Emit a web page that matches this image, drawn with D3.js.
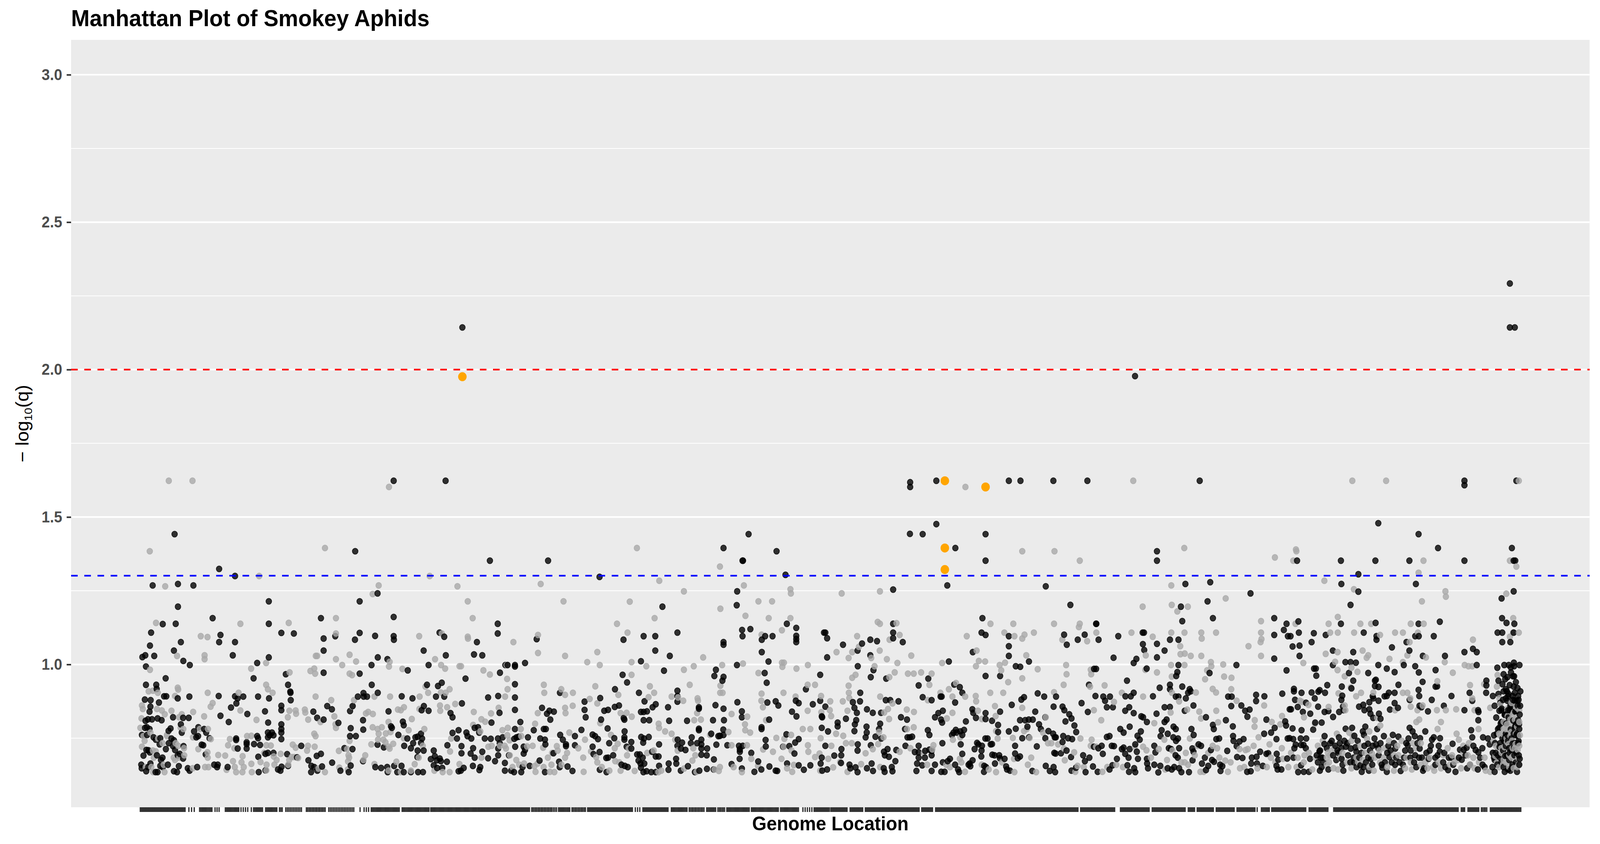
<!DOCTYPE html>
<html><head><meta charset="utf-8">
<script src="https://cdn.jsdelivr.net/npm/d3@7"></script>
<style>html,body{margin:0;padding:0;background:#fff;width:100%;height:100%;overflow:hidden;}svg{display:block;width:100vw;height:100vh;}</style>
</head><body>
<svg id="chart" viewBox="0 0 4320 2160" preserveAspectRatio="none"></svg>
<script>
// ---------------- DATA ----------------
const chartTitle = "Manhattan Plot of Smokey Aphids";
const xAxisTitle = "Genome Location";
const yTickValues = [1.0, 1.5, 2.0, 2.5, 3.0];
const yTickLabels = ["1.0", "1.5", "2.0", "2.5", "3.0"];
const yUpperLimit = 3.0;
const qThresholds = [0.01, 0.05];

// SNPs on odd-numbered contigs: [genome position, -log10(q)]
const oddContigSnps = [
[1480,2.143],[1173,1.623],[1405,1.623],[194,1.442],[1001,1.384],[393,1.324],[464,1.300],[96,1.268],[209,1.273],[278,1.268],[1101,1.241],[615,1.214],[1021,1.214],[209,1.196],[364,1.157],[848,1.157],[1173,1.161],[141,1.137],[199,1.138],[615,1.138],[89,1.108],[399,1.100],[671,1.107],[727,1.105],[1021,1.107],[912,1.096],[1000,1.084],[1090,1.097],[1173,1.096],[1174,1.084],[1378,1.108],[1399,1.094],[1545,1.076],[860,1.088],[84,1.064],[222,1.076],[393,1.076],[464,1.076],[191,1.047],[860,1.047],[1307,1.047],[50,1.025],[63,1.031],[103,1.029],[454,1.031],[615,1.024],[1102,1.024],[1145,1.018],[1406,1.031],[1532,1.034],[233,1.012],[262,0.998],[66,0.993],[563,1.005],[691,0.967],[860,0.972],[1021,0.969],[1074,0.998],[1236,0.980],[1329,0.998],[1494,0.952],
[154,0.953],[66,0.931],[112,0.931],[114,0.917],[547,0.953],[701,0.931],[711,0.908],[712,0.904],[713,0.879],[1075,0.931],[1102,0.904],[1038,0.903],[1013,0.891],[1054,0.891],[1039,0.891],[1322,0.931],[1362,0.891],[1371,0.927],[1388,0.938],[1399,0.891],[876,0.859],[897,0.848],[1478,0.868],[1209,0.892],[1257,0.885],[61,0.881],[87,0.879],[124,0.871],[147,0.892],[157,0.892],[208,0.885],[260,0.891],[391,0.893],[464,0.892],[476,0.885],[501,0.891],[567,0.891],[616,0.885],[446,0.854],[470,0.868],[86,0.857],[82,0.840],[75,0.814],[93,0.814],[64,0.809],[62,0.785],[118,0.817],[136,0.811],[187,0.821],[232,0.819],[257,0.819],[399,0.826],[436,0.805],[519,0.832],[598,0.841],[612,0.803],[671,0.860],[671,0.845],[671,0.797],[671,0.781],[671,0.769],[671,0.747],[814,0.840],[831,0.819],[860,0.813],[926,0.802],[978,0.842],[990,0.859],[1036,0.811],[1037,0.779],[1150,0.841],[1161,0.790],[1165,0.785],[1214,0.806],[1218,0.794],[1298,0.845],[1308,0.859],[1329,0.843],[1427,0.835],[1436,0.821],[1535,0.785],[1550,0.787],
[48,0.761],[71,0.761],[100,0.753],[130,0.750],[167,0.775],[176,0.783],[226,0.769],[191,0.743],[187,0.723],[234,0.723],[281,0.773],[300,0.787],[291,0.753],[299,0.757],[326,0.781],[335,0.769],[350,0.750],[315,0.728],[322,0.726],[333,0.695],[371,0.660],[387,0.660],[384,0.652],[431,0.652],[469,0.749],[469,0.744],[476,0.715],[516,0.736],[516,0.730],[516,0.715],[549,0.730],[563,0.757],[567,0.750],[576,0.727],[568,0.687],[570,0.635],[600,0.697],[611,0.769],[611,0.753],[619,0.760],[629,0.769],[636,0.760],[611,0.700],[636,0.700],[600,0.641],[656,0.644],[672,0.653],[667,0.640],[697,0.696],[701,0.656],[760,0.724],[741,0.685],[792,0.675],[805,0.656],[804,0.635],[818,0.652],[832,0.640],[829,0.690],[848,0.697],[853,0.654],[898,0.667],[935,0.640],[978,0.757],[1004,0.757],[981,0.784],[953,0.716],[972,0.635],[981,0.657],[989,0.713],[1036,0.672],[1101,0.728],[1091,0.652],[1117,0.649],[1129,0.719],[1144,0.652],[1146,0.635],[1175,0.656],[1189,0.635],[1208,0.656],[1218,0.635],[1250,0.635],[1282,0.635],[1304,0.635],[1220,0.724],[1194,0.761],[1234,0.749],[1250,0.716],[1260,0.733],[1270,0.753],[1280,0.755],[1295,0.765],[1300,0.749],[1295,0.734],[1280,0.708],[1279,0.686],[1307,0.708],[1339,0.679],[1352,0.708],[1357,0.689],[1352,0.658],[1366,0.675],[1379,0.681],[1384,0.672],[1367,0.649],[1390,0.649],[1411,0.670],[1413,0.726],[1436,0.768],[1463,0.777],[1456,0.749],[1476,0.723],[1476,0.699],[1463,0.638],[1473,0.640],[1486,0.649],[1498,0.769],[1503,0.757],[1520,0.749],[1528,0.716],[1517,0.698],[1535,0.684],[1527,0.656],
[45,0.660],[47,0.648],[67,0.638],[76,0.652],[86,0.664],[109,0.635],[118,0.635],[130,0.656],[141,0.652],[164,0.660],[191,0.638],[205,0.635],[213,0.655],[253,0.648],[261,0.640],[295,0.652],[232,0.681],[217,0.697],[208,0.692],[168,0.733],[155,0.713],[140,0.684],[133,0.676],[115,0.692],[68,0.710],[77,0.709],[83,0.702],[55,0.691],[70,0.787],[82,0.781],[110,0.745],[127,0.729],[180,0.749],[196,0.710],[222,0.797],
[1603,1.352],[1863,1.352],[2093,1.297],[2759,1.442],[2647,1.395],[2884,1.384],[2732,1.352],[2734,1.352],[2924,1.304],[2708,1.248],[2374,1.196],[2706,1.201],[2930,1.138],[1638,1.138],[1638,1.105],[2200,1.084],[2290,1.096],[2342,1.096],[2342,1.047],[2441,1.108],[2730,1.117],[2732,1.096],[2767,1.120],[2647,1.076],[2647,1.067],[2818,1.084],[2833,1.096],[2866,1.096],[2972,1.124],[2972,1.097],[2972,1.086],[2972,1.076],[3096,1.108],[1569,1.031],[1812,1.086],[2407,1.029],[2278,1.011],[2707,0.998],[2818,1.042],[2848,1.010],[1672,0.998],[1682,0.998],[1715,0.998],[1715,0.993],[1760,1.005],[1648,0.972],[1715,0.933],[1715,0.888],[1715,0.846],[1715,0.781],[1595,0.888],[1640,0.893],[1646,0.836],[1610,0.803],[1836,0.853],[1858,0.833],[1869,0.843],[1889,0.840],[1873,0.813],[1916,0.904],[2026,0.874],[2026,0.846],[2031,0.821],[2096,0.886],[2100,0.813],[2162,0.916],[2196,0.965],[2216,0.939],[2269,0.904],[2294,0.875],[2161,0.856],[2180,0.861],[2114,0.843],[2131,0.846],[2204,0.813],[2201,0.818],[2278,0.839],[2290,0.839],[2290,0.811],[2305,0.841],[2315,0.811],[2330,0.855],[2344,0.865],[2399,0.855],[2404,0.809],[2381,0.979],[2441,0.911],[2441,0.893],[2441,0.874],[2484,0.809],[2537,0.855],[2537,0.850],[2613,0.982],[2606,0.961],[2642,0.945],[2647,0.958],[2611,0.862],[2600,0.811],[2647,0.850],[2649,0.811],[2709,0.872],[2729,0.841],[2729,0.821],[2831,0.971],[2840,0.938],[2843,0.871],[2880,0.875],[2892,0.861],[2851,0.813],[2953,0.840],[2970,0.877],[2983,0.869],[2973,0.824],[3015,0.916],[3046,0.865],[3079,0.965],[3079,0.877],[3086,0.824],[3088,0.821],[3086,0.785],
[1555,0.769],[1569,0.704],[1560,0.652],[1556,0.642],[1580,0.749],[1607,0.748],[1595,0.682],[1626,0.672],[1640,0.715],[1640,0.692],[1639,0.749],[1647,0.733],[1660,0.753],[1670,0.666],[1670,0.640],[1688,0.692],[1698,0.640],[1711,0.635],[1712,0.748],[1716,0.721],[1722,0.753],[1732,0.755],[1739,0.805],[1754,0.721],[1760,0.710],[1754,0.698],[1743,0.635],[1749,0.652],[1773,0.753],[1781,0.656],[1799,0.777],[1825,0.674],[1828,0.749],[1849,0.745],[1851,0.729],[1849,0.635],[1844,0.781],[1853,0.781],[1887,0.699],[1912,0.670],[1917,0.761],[1929,0.745],[1943,0.729],[1943,0.723],[1915,0.652],[1950,0.654],[1972,0.639],[1983,0.757],[1983,0.726],[2012,0.778],[2062,0.762],[2062,0.721],[2066,0.696],[2073,0.757],[2086,0.747],[2093,0.703],[2094,0.643],[2124,0.635],[2131,0.684],[2123,0.683],[2129,0.783],[2136,0.733],[2159,0.750],[2154,0.692],[2191,0.660],[2205,0.773],[2204,0.753],[2204,0.745],[2214,0.721],[2235,0.737],[2235,0.715],[2206,0.656],[2219,0.652],[2261,0.695],[2273,0.695],[2267,0.674],[2276,0.664],[2286,0.684],[2278,0.650],[2289,0.635],[2303,0.638],[2293,0.664],[2279,0.754],[2288,0.735],[2292,0.749],[2313,0.754],[2328,0.704],[2344,0.688],[2359,0.729],[2357,0.688],[2359,0.656],[2344,0.635],[2324,0.635],[2402,0.664],[2401,0.643],[2442,0.745],[2441,0.724],[2457,0.715],[2462,0.735],[2456,0.640],[2435,0.680],[2436,0.664],[2477,0.710],[2488,0.655],[2505,0.753],[2501,0.733],[2529,0.733],[2519,0.635],[2539,0.640],[2537,0.782],[2537,0.777],[2548,0.745],[2548,0.729],[2548,0.715],[2548,0.694],[2574,0.715],[2572,0.692],[2592,0.765],[2573,0.646],[2604,0.678],[2603,0.644],[2615,0.728],[2624,0.757],[2631,0.758],[2647,0.761],[2646,0.779],[2664,0.726],[2683,0.662],[2716,0.724],[2720,0.712],[2720,0.704],[2719,0.680],[2729,0.647],[2733,0.724],[2771,0.700],[2802,0.671],[2785,0.636],[2816,0.644],[2817,0.781],[2817,0.787],[2835,0.744],[2836,0.722],[2852,0.654],[2880,0.640],[2887,0.639],[2913,0.721],[2928,0.763],[2941,0.723],[2931,0.664],[2964,0.698],[2967,0.735],[2983,0.747],[2983,0.658],[3006,0.643],[3035,0.658],[3081,0.664],[3086,0.684],[3088,0.640],
[3481,1.618],[3481,1.602],[3598,1.623],[3922,1.623],[3974,1.623],[4121,1.623],[4273,1.623],[3598,1.476],[3480,1.443],[3537,1.442],[3818,1.442],[3683,1.395],[3818,1.352],[4584,1.384],[4584,1.352],[4486,1.978],[3647,1.268],[4087,1.265],[3405,1.254],[4197,1.202],[3804,1.157],[4313,1.138],[3405,1.138],[3405,1.108],[3405,1.089],[3448,1.076],[3102,1.108],[3110,1.089],[3110,1.024],[3181,1.067],[3246,1.047],[3303,1.084],[3303,1.031],[3333,1.079],[3266,1.071],[3247,0.994],[3317,0.981],[3305,0.957],[3374,0.952],[3562,0.952],[3519,0.929],[3761,1.042],[3800,1.108],[3818,1.100],[3654,1.010],[3818,0.961],[3922,1.096],[3922,1.062],[3922,1.029],[4012,1.010],[3883,0.961],[3953,0.994],[3973,0.992],[4169,1.101],[4181,1.067],[4230,1.084],[4261,1.101],[4323,1.084],[4312,1.138],[4411,1.096],[4520,1.108],[4526,1.108],[4521,1.069],[4527,1.049],[4584,1.070],[4618,1.047],[4584,1.024],[4642,1.084],[4390,1.023],[4480,1.005],[4492,1.019],[4538,0.986],[4303,0.985],[4312,0.985],[4280,0.931],[4450,0.945],[4596,0.921],[4642,0.931],[4642,0.916],
[4122,0.857],[4162,0.857],[4192,0.831],[4175,0.807],[4170,0.845],[4202,0.817],[4247,0.869],[4275,0.839],[4309,0.893],[4344,0.891],[4374,0.891],[4352,0.877],[4360,0.855],[4387,0.855],[4443,0.892],[4467,0.892],[4480,0.904],[4460,0.855],[4442,0.843],[4480,0.835],[4514,0.824],[4522,0.821],[4566,0.892],[4582,0.833],[4618,0.855],[4642,0.856],[4539,0.805],[4051,0.902],[4080,0.891],[4133,0.891],[4040,0.840],[4085,0.821],[4011,0.813],[4029,0.813],[3995,0.811],[3978,0.881],[3990,0.889],[3935,0.863],[3972,0.811],[3883,0.840],[3818,0.835],[3818,0.815],[3847,0.809],[3759,0.848],[3763,0.836],[3775,0.819],[3730,0.807],[3682,0.871],[3678,0.932],[3703,0.923],[3714,0.904],[3617,0.891],[3622,0.891],[3627,0.843],[3607,0.835],[3592,0.821],[3619,0.813],[3624,0.803],[3577,0.879],[3537,0.889],[3467,0.813],[3440,0.821],[3429,0.875],[3392,0.879],[3372,0.879],[3351,0.836],[3314,0.836],[3288,0.848],[3257,0.875],[3258,0.904],[3225,0.872],[3232,0.853],[3243,0.836],[3240,0.811],[3234,0.797],[3194,0.816],[3102,0.857],[3157,0.803],[3157,0.790],
[3114,0.773],[3102,0.724],[3110,0.644],[3142,0.691],[3174,0.713],[3173,0.692],[3172,0.666],[3210,0.660],[3214,0.648],[3246,0.635],[3237,0.651],[3232,0.774],[3247,0.729],[3246,0.708],[3288,0.648],[3286,0.789],[3287,0.769],[3282,0.753],[3305,0.726],[3309,0.664],[3315,0.639],[3326,0.755],[3342,0.781],[3347,0.799],[3352,0.749],[3364,0.704],[3368,0.692],[3386,0.687],[3380,0.713],[3367,0.636],[3363,0.648],[3399,0.652],[3402,0.638],[3415,0.672],[3419,0.710],[3458,0.781],[3460,0.724],[3469,0.753],[3479,0.753],[3502,0.703],[3519,0.702],[3519,0.684],[3512,0.664],[3509,0.639],[3490,0.755],[3519,0.724],[3535,0.658],[3548,0.707],[3560,0.777],[3567,0.761],[3547,0.684],[3577,0.707],[3577,0.692],[3567,0.711],[3592,0.660],[3577,0.639],[3620,0.636],[3625,0.733],[3627,0.668],[3649,0.672],[3659,0.680],[3635,0.636],[3668,0.761],[3675,0.769],[3685,0.778],[3690,0.769],[3705,0.773],[3714,0.761],[3722,0.778],[3707,0.729],[3714,0.697],[3682,0.660],[3695,0.644],[3700,0.635],[3747,0.664],[3750,0.655],[3742,0.660],[3760,0.675],[3769,0.713],[3780,0.734],[3786,0.729],[3802,0.724],[3800,0.708],[3799,0.688],[3812,0.656],[3820,0.652],[3811,0.636],[3817,0.749],[3827,0.749],[3847,0.730],[3841,0.729],[3874,0.771],[3874,0.795],[3848,0.694],[3858,0.692],[3879,0.692],[3882,0.682],[3903,0.680],[3860,0.664],[3910,0.654],[3914,0.644],[3927,0.640],[3950,0.724],[3950,0.698],[3962,0.682],[3972,0.688],[3953,0.782],[3922,0.773],[3982,0.750],[4005,0.789],[4012,0.753],[4027,0.639],[4047,0.722],[4057,0.797],[4065,0.781],[4085,0.750],[4099,0.774],[4120,0.765],[4127,0.753],[4125,0.700],[4131,0.698],[4155,0.699],[4087,0.656],[4105,0.639],[4122,0.652],[4129,0.635],[4132,0.753],[4165,0.757],[4180,0.708],[4162,0.737],[4187,0.750],[4200,0.686],[4205,0.747],[4215,0.793],[4223,0.771],[4222,0.650],[4202,0.640],[4254,0.692],[4262,0.672],[4265,0.635],[4282,0.684],[4298,0.654],[4302,0.721],[4322,0.716],[4337,0.724],[4342,0.697],[4319,0.636],[4360,0.754],[4372,0.757],[4382,0.724],[4392,0.723],[4372,0.644],[4385,0.658],[4405,0.680],[4420,0.781],[4435,0.769],[4427,0.713],[4435,0.718],[4442,0.697],[4457,0.684],[4462,0.713],[4452,0.658],[4459,0.636],[4482,0.648],[4487,0.635],[4462,0.789],[4487,0.729],[4494,0.704],[4499,0.680],[4497,0.758],[4512,0.773],[4507,0.745],[4539,0.680],[4540,0.664],[4544,0.648],[4572,0.724],[4577,0.702],[4590,0.634],[4599,0.656],[4572,0.660],[4600,0.757],[4605,0.777],[4618,0.805],[4627,0.813],[4632,0.765],[4647,0.713],[4637,0.716],[4632,0.648],[4650,0.644],
[6161,2.292],[6161,2.143],[6183,2.143],[4775,1.623],[5958,1.623],[5958,1.608],[6190,1.623],[5573,1.479],[5753,1.442],[5840,1.395],[6170,1.395],[5210,1.352],[5406,1.352],[5560,1.352],[5712,1.352],[5958,1.352],[6178,1.352],[6185,1.352],[5484,1.306],[4711,1.273],[4822,1.279],[5408,1.273],[5741,1.273],[5484,1.247],[5002,1.241],[6178,1.248],[4810,1.214],[6124,1.224],[4691,1.196],[5449,1.202],[4697,1.147],[4834,1.157],[5108,1.157],[5163,1.138],[5216,1.146],[5406,1.138],[5561,1.141],[5753,1.138],[5848,1.145],[6126,1.157],[6146,1.141],[6181,1.138],[6106,1.108],[6127,1.108],[6127,1.076],[6178,1.108],[6163,1.076],[5108,1.100],[5151,1.117],[5169,1.096],[5181,1.096],[5218,1.108],[5221,1.064],[5190,1.061],[5275,1.076],[5285,1.106],[5338,1.100],[5508,1.108],[5565,1.096],[5565,1.084],[5699,1.076],[5738,1.096],[5754,1.096],[5821,1.096],[5996,1.053],[6013,1.042],[5958,1.042],[5871,1.029],[5772,1.029],[5712,1.047],[5634,1.058],[5370,1.047],[5461,1.042],[5108,1.020],[5221,1.029],[4680,1.084],[4680,0.998],[4939,0.998],[4819,0.971],[4675,0.974],[4670,0.961],[5163,0.980],[5286,0.986],[5294,0.986],[5296,0.962],[5370,0.998],[5426,1.008],[5449,1.008],[5473,1.006],[5442,0.971],[5461,0.945],[5528,0.971],[5573,0.998],[5562,0.948],[5611,0.986],[5646,0.974],[5687,0.998],[5738,0.994],[5754,0.973],[5771,0.941],[5829,0.981],[5836,0.926],[6013,0.998],[6105,0.989],[6110,0.945],[6136,0.998],[6156,0.998],[6179,1.006],[6180,0.994],[6204,0.998],[6133,0.967],[6150,0.957],[6166,0.973],
[4697,0.925],[4730,0.916],[4735,0.909],[4723,0.904],[4668,0.891],[4680,0.891],[4713,0.885],[4708,0.843],[4747,0.861],[4803,0.821],[4834,0.795],[4838,0.781],[4892,0.811],[4902,0.891],[4918,0.891],[4916,0.859],[4961,0.861],[4978,0.843],[4988,0.823],[4998,0.847],[5027,0.897],[5027,0.876],[5064,0.892],[5073,0.813],[5144,0.901],[5196,0.917],[5196,0.909],[5201,0.880],[5213,0.856],[5230,0.904],[5177,0.848],[5183,0.848],[5236,0.839],[5250,0.870],[5275,0.905],[5305,0.908],[5311,0.913],[5335,0.904],[5345,0.930],[5304,0.857],[5289,0.885],[5269,0.833],[5320,0.803],[5333,0.839],[5350,0.842],[5371,0.822],[5410,0.925],[5412,0.894],[5408,0.880],[5415,0.857],[5418,0.845],[5398,0.839],[5453,0.919],[5487,0.857],[5506,0.863],[5511,0.845],[5533,0.848],[5538,0.833],[5533,0.872],[5548,0.892],[5551,0.885],[5550,0.819],[5558,0.945],[5558,0.927],[5574,0.924],[5574,0.877],[5576,0.833],[5583,0.816],[5601,0.892],[5611,0.893],[5620,0.904],[5646,0.904],[5663,0.931],[5661,0.853],[5646,0.869],[5625,0.847],[5713,0.880],[5753,0.914],[5756,0.893],[5757,0.860],[5766,0.855],[5795,0.841],[5812,0.880],[5829,0.925],[5866,0.860],[5900,0.893],[5958,0.845],[5981,0.904],[5993,0.877],[6019,0.845],[6021,0.839],[6020,0.811],[6056,0.945],[6056,0.929],[6055,0.904],[6085,0.893],[6093,0.860],[6114,0.843],[6143,0.916],[6148,0.909],[6150,0.877],[6153,0.893],[6160,0.845],[6173,0.893],[6178,0.925],[6183,0.904],[6193,0.877],[6190,0.841],[6198,0.811],[6202,0.797],[6133,0.909],[6128,0.933],[6110,0.900],[6118,0.870],[6125,0.850],[6138,0.830],[6145,0.800],[6155,0.820],[6163,0.860],[6170,0.840],[6176,0.810],[6185,0.790],[6190,0.760],[6196,0.860],[6200,0.880],[6205,0.830],[6140,0.950],[6160,0.930],[6175,0.960],[6188,0.940],
[4658,0.789],[4668,0.781],[4657,0.753],[4678,0.749],[4669,0.741],[4683,0.716],[4667,0.692],[4677,0.684],[4661,0.652],[4683,0.648],[4693,0.635],[4727,0.635],[4738,0.781],[4748,0.761],[4742,0.715],[4747,0.704],[4770,0.729],[4781,0.724],[4743,0.675],[4785,0.664],[4798,0.684],[4803,0.642],[4813,0.656],[4825,0.710],[4830,0.676],[4839,0.670],[4849,0.747],[4862,0.749],[4866,0.660],[4876,0.655],[4868,0.639],[4898,0.707],[4923,0.790],[4924,0.757],[4926,0.741],[4940,0.723],[4942,0.686],[4953,0.739],[4971,0.747],[4966,0.683],[4987,0.636],[5003,0.638],[5005,0.664],[5008,0.684],[5029,0.687],[5031,0.664],[5045,0.704],[5057,0.656],[5063,0.765],[5073,0.697],[5081,0.699],[5094,0.769],[5110,0.785],[5118,0.747],[5119,0.697],[5126,0.677],[5118,0.656],[5123,0.644],[5140,0.644],[5157,0.807],[5161,0.793],[5168,0.749],[5166,0.681],[5176,0.750],[5190,0.783],[5193,0.747],[5194,0.684],[5198,0.716],[5204,0.728],[5215,0.635],[5226,0.749],[5228,0.727],[5230,0.777],[5239,0.727],[5249,0.716],[5251,0.749],[5228,0.658],[5240,0.636],[5263,0.636],[5268,0.680],[5282,0.779],[5291,0.803],[5310,0.705],[5315,0.684],[5312,0.640],[5320,0.652],[5329,0.668],[5332,0.730],[5333,0.757],[5350,0.644],[5365,0.741],[5381,0.724],[5391,0.708],[5397,0.753],[5401,0.733],[5409,0.680],[5413,0.660],[5417,0.640],[5428,0.721],[5435,0.733],[5450,0.715],[5427,0.782],[5456,0.785],[5466,0.758],[5471,0.719],[5475,0.704],[5465,0.668],[5476,0.652],[5488,0.684],[5493,0.658],[5499,0.636],[5508,0.652],[5511,0.724],[5509,0.761],[5504,0.773],[5515,0.789],[5527,0.731],[5536,0.708],[5540,0.680],[5546,0.660],[5531,0.640],[5556,0.749],[5563,0.729],[5573,0.716],[5568,0.781],[5575,0.692],[5588,0.660],[5591,0.650],[5603,0.668],[5611,0.636],[5618,0.724],[5623,0.686],[5633,0.668],[5638,0.761],[5643,0.733],[5649,0.715],[5663,0.755],[5653,0.684],[5673,0.639],[5683,0.660],[5693,0.708],[5705,0.726],[5708,0.749],[5716,0.684],[5713,0.785],[5726,0.773],[5736,0.757],[5733,0.668],[5743,0.652],[5755,0.684],[5758,0.715],[5760,0.750],[5773,0.640],[5778,0.648],[5783,0.773],[5798,0.680],[5803,0.708],[5813,0.745],[5821,0.753],[5828,0.660],[5838,0.692],[5848,0.704],[5849,0.750],[5863,0.668],[5873,0.652],[5885,0.642],[5900,0.684],[5905,0.731],[5918,0.636],[5938,0.711],[5946,0.677],[5955,0.711],[5968,0.718],[5970,0.648],[5988,0.777],[5993,0.753],[5998,0.724],[6008,0.710],[6018,0.644],[6039,0.660],[6038,0.716],[6020,0.702],[6041,0.753],[6063,0.749],[6071,0.729],[6083,0.652],[6090,0.684],[6093,0.636],[6098,0.700],[6095,0.733],[6103,0.765],[6108,0.781],[6113,0.785],[6118,0.684],[6123,0.668],[6133,0.652],[6138,0.636],[6131,0.708],[6143,0.724],[6153,0.741],[6141,0.753],[6148,0.692],[6158,0.676],[6163,0.640],[6168,0.708],[6173,0.731],[6178,0.765],[6183,0.781],[6188,0.797],[6193,0.765],[6198,0.733],[6201,0.692],[6203,0.660],[6193,0.636],[6188,0.668],[6181,0.692],[6173,0.660],[6153,0.644],
[5298,0.692],[5303,0.668],[5313,0.708],[5323,0.684],[5343,0.716],[5358,0.733],[5371,0.692],[5385,0.676],[5395,0.700],[5408,0.716],[5421,0.741],[5438,0.692],[5448,0.668],[5463,0.684],[5481,0.741],[5498,0.700],[5518,0.668],[5528,0.684],[5548,0.724],[5583,0.733],[5598,0.757],[5613,0.700],[5628,0.708],[5648,0.660],[5668,0.668],[5688,0.684],[5698,0.733],[5718,0.708],[5738,0.692],[5748,0.733],[5768,0.684],[5788,0.700],[5808,0.724],[5828,0.684],[5843,0.724],[5868,0.700],[5888,0.684],[5908,0.660],[5933,0.684],[5963,0.692],[5983,0.660],[6028,0.684],[6048,0.652],[6093,0.676],[6108,0.692],[6118,0.733],[6128,0.749],[6143,0.765],[6158,0.716],[6168,0.749],[6183,0.733],[6198,0.757],[6203,0.781],[6123,0.805],[6138,0.829],[6153,0.845],[6168,0.861],[6183,0.877],[6198,0.893],[6208,0.909],[6143,0.885],[6123,0.845],
[6085,0.700],[6090,0.760],[6100,0.820],[6105,0.660],[6115,0.720],[6120,0.800],[6130,0.880],[6135,0.740],[6140,0.690],[6150,0.760],[6155,0.900],[6160,0.700],[6165,0.780],[6170,0.650],[6175,0.880],[6180,0.720],[6185,0.840],[6190,0.700],[6195,0.800],[6200,0.740],[6205,0.680],[6207,0.860],[6195,0.920],[6180,0.960],[6165,0.990]
];

// SNPs on even-numbered contigs: [genome position, -log10(q)]
const evenContigSnps = [
[168,1.623],[274,1.623],[1152,1.602],[83,1.384],[866,1.395],[572,1.300],[1334,1.300],[152,1.265],[1106,1.268],[1079,1.239],[1458,1.265],[1504,1.214],[915,1.157],[1526,1.157],[111,1.141],[488,1.138],[704,1.141],[311,1.096],[341,1.093],[915,1.105],[1287,1.096],[1388,1.105],[1504,1.094],[1505,1.088],[205,1.029],[328,1.031],[328,1.018],[825,1.029],[831,1.029],[915,1.018],[976,1.033],[1005,1.010],[1155,1.009],[1358,1.018],[84,0.982],[603,1.005],[536,0.986],[708,0.973],[801,0.978],[818,0.986],[822,0.969],[943,0.998],[976,0.969],[987,0.964],[1152,0.993],[1212,0.985],[1385,0.998],[1403,0.986],[1467,0.994],[1474,0.994],
[78,0.909],[97,0.911],[119,0.904],[208,0.921],[210,0.915],[603,0.931],[611,0.916],[632,0.904],[342,0.904],[480,0.904],[1087,0.891],[996,0.879],[1315,0.925],[1327,0.904],[1384,0.905],[1405,0.904],[1423,0.916],[824,0.891],[894,0.879],[1448,0.866],[1157,0.891],[1289,0.891],[364,0.869],[355,0.857],[48,0.861],[52,0.849],[46,0.817],[41,0.785],[115,0.849],[137,0.844],[150,0.831],[180,0.843],[196,0.893],[214,0.821],[226,0.831],[277,0.839],[326,0.824],[488,0.844],[560,0.812],[700,0.821],[707,0.843],[735,0.844],[737,0.833],[776,0.847],[778,0.837],[791,0.813],[846,0.805],[908,0.824],[913,0.797],[915,0.785],[987,0.858],[1049,0.834],[1059,0.839],[1080,0.832],[1079,0.787],[1101,0.781],[1120,0.787],[1150,0.805],[1159,0.771],[1192,0.847],[1205,0.845],[1219,0.855],[1254,0.815],[1288,0.849],[1380,0.861],[1381,0.843],[1412,0.855],[1531,0.839],[1528,0.795],
[55,0.757],[120,0.749],[160,0.761],[233,0.781],[210,0.724],[236,0.716],[276,0.753],[307,0.781],[343,0.781],[356,0.747],[300,0.713],[341,0.702],[342,0.684],[389,0.693],[420,0.691],[426,0.643],[441,0.747],[433,0.726],[461,0.716],[455,0.672],[463,0.652],[469,0.635],[498,0.689],[493,0.668],[503,0.652],[497,0.635],[518,0.757],[537,0.758],[537,0.663],[539,0.635],[578,0.669],[594,0.700],[604,0.726],[605,0.660],[624,0.725],[604,0.641],[640,0.660],[637,0.688],[650,0.676],[668,0.697],[706,0.676],[702,0.660],[722,0.728],[735,0.718],[717,0.686],[728,0.686],[746,0.683],[786,0.708],[790,0.724],[820,0.721],[818,0.765],[824,0.757],[837,0.647],[866,0.635],[930,0.650],[928,0.707],[974,0.684],[969,0.671],[976,0.741],[965,0.713],[971,0.692],[968,0.644],[1046,0.692],[1038,0.676],[1073,0.729],[1087,0.662],[1127,0.745],[1136,0.736],[1150,0.721],[1155,0.715],[1171,0.731],[1106,0.765],[1103,0.745],[1138,0.766],[1150,0.640],[1185,0.670],[1205,0.635],[1250,0.640],[1267,0.662],[1218,0.750],[1240,0.777],[1285,0.684],[1303,0.724],[1310,0.781],[1355,0.640],[1392,0.635],[1423,0.635],[1425,0.705],[1430,0.749],[1467,0.662],
[65,0.652],[90,0.652],[98,0.635],[149,0.635],[275,0.648],[330,0.652],[345,0.652],[215,0.684],[237,0.692],[196,0.676],[190,0.684],[145,0.660],[110,0.705],[101,0.684],[97,0.708],[48,0.721],[60,0.741],[86,0.769],[140,0.733],[160,0.757],[199,0.733],[221,0.785],
[1830,1.273],[1932,1.214],[2260,1.395],[2631,1.332],[2360,1.284],[2738,1.268],[2470,1.248],[2946,1.255],[2948,1.241],[2228,1.213],[2803,1.214],[2864,1.214],[2633,1.189],[2745,1.165],[2849,1.157],[2946,1.157],[2171,1.138],[2339,1.157],[2218,1.108],[2817,1.101],[2908,1.116],[1708,1.076],[1818,1.100],[1818,1.039],[1939,1.029],[2083,1.042],[2038,1.008],[2094,0.998],[2556,1.024],[2236,1.008],[2302,0.994],[2734,1.003],[2908,1.006],[2917,1.006],[2910,0.992],[2973,0.986],[3024,0.998],[1678,0.998],[1574,0.980],[1603,0.966],[1680,0.951],[1682,0.916],[1671,0.891],[1642,0.853],[1608,0.834],[1565,0.814],[1582,0.806],[1844,0.931],[1846,0.904],[1817,0.835],[1922,0.916],[1939,0.897],[1939,0.853],[1941,0.835],[1974,0.904],[1973,0.860],[2049,0.883],[2074,0.926],[2083,0.868],[2096,0.801],[2177,0.897],[2236,0.965],[2318,0.926],[2337,0.904],[2312,0.889],[2187,0.835],[2214,0.836],[2237,0.823],[2357,0.799],[2359,0.785],[2415,0.891],[2444,0.888],[2467,0.877],[2496,0.931],[2470,0.982],[2514,0.994],[2531,0.885],[2533,0.877],[2529,0.835],[2516,0.811],[2546,0.813],[2633,0.928],[2632,0.904],[2643,0.904],[2641,0.998],[2683,0.832],[2753,0.823],[2743,0.797],[2803,0.971],[2817,0.901],[2816,0.877],[2823,0.855],[2837,0.811],[2915,0.904],[2969,0.891],[3023,0.931],[3056,0.931],[3023,0.843],[3083,0.893],[3084,0.838],
[1560,0.773],[1565,0.684],[1596,0.721],[1611,0.724],[1648,0.724],[1669,0.724],[1675,0.715],[1691,0.743],[1681,0.760],[1659,0.777],[1683,0.785],[1692,0.692],[1704,0.652],[1741,0.781],[1743,0.757],[1756,0.664],[1734,0.660],[1721,0.676],[1769,0.722],[1802,0.655],[1805,0.799],[1794,0.724],[1807,0.636],[1816,0.664],[1841,0.718],[1843,0.652],[1862,0.684],[1871,0.636],[1891,0.635],[1878,0.660],[1881,0.700],[1902,0.723],[1906,0.708],[1923,0.660],[1948,0.700],[1939,0.684],[1958,0.769],[1998,0.716],[2028,0.745],[2020,0.684],[2022,0.636],[2055,0.705],[2078,0.686],[2083,0.668],[2103,0.652],[2137,0.640],[2144,0.761],[2174,0.731],[2161,0.716],[2163,0.672],[2181,0.668],[2187,0.640],[2216,0.692],[2223,0.715],[2250,0.639],[2306,0.700],[2335,0.708],[2356,0.635],[2369,0.640],[2415,0.765],[2386,0.773],[2431,0.745],[2442,0.708],[2471,0.647],[2512,0.716],[2521,0.692],[2508,0.674],[2526,0.636],[2587,0.761],[2607,0.644],[2626,0.639],[2631,0.652],[2669,0.771],[2683,0.726],[2692,0.652],[2729,0.635],[2752,0.726],[2771,0.680],[2766,0.769],[2744,0.777],[2801,0.656],[2824,0.712],[2868,0.704],[2883,0.751],[2906,0.680],[2916,0.721],[2919,0.748],[2949,0.761],[2951,0.708],[2931,0.648],[2954,0.636],[2961,0.659],[3001,0.781],[3035,0.781],[3024,0.726],[3026,0.704],[3056,0.686],[3079,0.640],[3081,0.750],[3076,0.698],
[3728,1.602],[4478,1.623],[3982,1.384],[4126,1.384],[4239,1.352],[3346,1.248],[3175,1.241],[4648,1.268],[4520,1.196],[4650,1.202],[3840,1.138],[3942,1.138],[4124,1.138],[4239,1.138],[4235,1.127],[3336,1.144],[3346,1.138],[3420,1.140],[3389,1.084],[3434,1.100],[3244,1.096],[3152,1.042],[3206,1.022],[3222,1.042],[3252,1.060],[3345,1.047],[3377,1.018],[3322,0.994],[3237,0.965],[3222,0.955],[3206,0.928],[3207,0.904],[3209,0.886],[3180,0.875],[3124,0.875],[3307,1.022],[3424,1.005],[3412,0.973],[3388,0.957],[3486,1.030],[3471,0.969],[3497,0.969],[3530,0.973],[3577,0.969],[3567,0.931],[3778,1.047],[3734,1.096],[3624,1.005],[3788,1.012],[3816,1.010],[3775,0.994],[3902,1.108],[3947,1.096],[3982,1.088],[3992,1.101],[4034,1.108],[4000,1.031],[3905,1.006],[3881,0.998],[3888,0.980],[4051,0.984],[3982,0.953],[3919,0.940],[4161,1.084],[4272,1.079],[4313,1.108],[4470,1.108],[4534,1.031],[4565,1.094],[4648,1.108],[4647,0.998],[4650,0.959],[4532,0.982],[4584,0.973],[4178,0.998],[4180,0.967],[4288,0.982],[4290,0.967],[4167,0.931],[4285,0.925],[4350,0.929],[4651,0.904],
[4302,0.845],[4392,0.873],[4427,0.904],[4522,0.891],[4645,0.837],[4335,0.811],[4572,0.801],[4124,0.906],[4087,0.821],[3982,0.853],[3897,0.904],[3839,0.904],[3860,0.859],[3863,0.825],[3784,0.843],[3802,0.815],[3774,0.893],[3776,0.875],[3727,0.891],[3686,0.937],[3670,0.891],[3654,0.916],[3616,0.904],[3645,0.817],[3670,0.836],[3560,0.879],[3498,0.839],[3466,0.847],[3402,0.868],[3382,0.849],[3365,0.837],[3387,0.815],[3347,0.891],[3201,0.843],[3122,0.845],[3128,0.825],[3150,0.765],[3182,0.758],
[3129,0.724],[3115,0.680],[3137,0.651],[3168,0.669],[3201,0.636],[3194,0.733],[3220,0.733],[3262,0.662],[3282,0.699],[3314,0.713],[3342,0.771],[3362,0.753],[3338,0.730],[3347,0.652],[3434,0.704],[3467,0.781],[3497,0.787],[3482,0.716],[3542,0.700],[3557,0.660],[3585,0.726],[3580,0.712],[3642,0.660],[3659,0.652],[3672,0.745],[3705,0.753],[3703,0.680],[3710,0.668],[3726,0.636],[3801,0.660],[3832,0.644],[3865,0.774],[3872,0.749],[3892,0.668],[3865,0.635],[3947,0.635],[3945,0.680],[3940,0.751],[3990,0.774],[4002,0.781],[4015,0.751],[4022,0.684],[4007,0.660],[4044,0.635],[4075,0.769],[4097,0.733],[4112,0.733],[4142,0.729],[4168,0.715],[4172,0.675],[4214,0.702],[4242,0.749],[4229,0.656],[4219,0.636],[4257,0.652],[4288,0.724],[4292,0.745],[4312,0.721],[4340,0.636],[4362,0.652],[4402,0.660],[4485,0.721],[4432,0.652],[4522,0.721],[4537,0.709],[4557,0.684],[4592,0.713],[4617,0.745],[4629,0.676],[4621,0.644],
[5457,1.623],[5608,1.623],[6201,1.623],[4706,1.395],[5205,1.390],[5207,1.384],[5111,1.363],[5193,1.352],[5775,1.352],[6161,1.352],[6190,1.332],[5753,1.311],[5332,1.284],[5464,1.255],[5873,1.248],[5875,1.230],[6145,1.240],[4891,1.224],[5768,1.214],[4722,1.196],[4675,1.180],[5049,1.147],[5203,1.138],[5392,1.161],[5351,1.138],[5493,1.138],[5541,1.138],[5718,1.138],[5776,1.138],[6176,1.157],[6201,1.108],[6161,1.094],[6175,1.108],[4707,1.108],[4782,1.108],[4784,1.088],[4848,1.108],[5049,1.108],[5051,1.086],[5047,1.076],[5358,1.108],[5392,1.108],[5465,1.108],[5581,1.100],[5648,1.108],[5683,1.108],[5713,1.076],[5750,1.108],[5996,1.084],[5786,1.024],[5703,1.031],[5623,1.019],[5391,1.042],[5503,1.047],[5528,1.031],[5338,1.036],[5521,1.023],[5238,1.005],[4688,1.062],[4689,1.035],[4708,1.037],[4735,1.029],[4782,1.029],[4993,1.062],[5049,1.029],[4707,0.998],[4880,1.000],[4825,1.008],[4827,0.994],[4808,0.980],[4799,0.950],[4884,0.959],[4917,0.955],[5380,1.009],[5391,0.981],[5453,0.989],[5480,0.975],[5423,0.960],[5683,1.008],[5837,0.943],[5906,0.972],[5870,1.008],[5959,0.998],[5976,0.994],[5993,0.994],[6106,0.964],
[4758,0.905],[4683,0.875],[4719,0.847],[4773,0.840],[4781,0.817],[4833,0.917],[4848,0.905],[4849,0.843],[4857,0.804],[4916,0.916],[4940,0.877],[5021,0.811],[5020,0.789],[5063,0.861],[5097,0.805],[5223,0.877],[5232,0.873],[5241,0.821],[5261,0.863],[5351,0.856],[5395,0.902],[5423,0.861],[5426,0.845],[5450,0.922],[5474,0.892],[5496,0.904],[5551,0.905],[5568,0.819],[5582,0.793],[5648,0.845],[5683,0.904],[5703,0.904],[5716,0.885],[5718,0.857],[5748,0.845],[5771,0.861],[5835,0.845],[5875,0.845],[5921,0.848],[5983,0.930],[5993,0.885],[6046,0.933],[6073,0.853],[6114,0.885],[6103,0.925],[6118,0.865],[6168,0.870],[6188,0.857],[6203,0.845],[6183,0.813],[6151,0.825],[6003,0.845],[5743,0.805],[5756,0.813],[5838,0.781],[5853,0.805],[5135,0.797],[5143,0.825],[5290,0.799],
[4653,0.708],[4693,0.668],[4708,0.668],[4723,0.660],[4731,0.749],[4765,0.724],[4778,0.636],[4793,0.636],[4833,0.724],[4853,0.716],[4901,0.636],[4889,0.674],[4953,0.713],[4980,0.710],[4974,0.652],[4990,0.713],[5016,0.724],[5038,0.753],[5087,0.729],[5075,0.652],[5142,0.716],[5147,0.680],[5171,0.652],[5208,0.652],[5243,0.692],[5240,0.668],[5278,0.644],[5348,0.700],[5358,0.692],[5353,0.668],[5377,0.716],[5403,0.684],[5443,0.769],[5459,0.757],[5523,0.748],[5546,0.697],[5578,0.708],[5598,0.684],[5663,0.692],[5728,0.733],[5923,0.765],[5933,0.745],[5953,0.724],[5973,0.692],[6021,0.781],[6073,0.636],[6123,0.716],[6138,0.692],[6153,0.781],[6163,0.757],[6171,0.741],[6183,0.716],[6198,0.684],[6143,0.668],[6158,0.652],[6178,0.648],[6193,0.652],[6113,0.652],[6103,0.668],[6128,0.765],[6133,0.805],[6143,0.781],[6173,0.829],[6193,0.789],[6203,0.724],[6148,0.737],[6168,0.684],
[5343,0.660],[5373,0.648],[5393,0.644],[5453,0.648],[5483,0.668],[5503,0.676],[5533,0.652],[5553,0.640],[5613,0.652],[5643,0.640],[5693,0.648],[5723,0.644],[5763,0.660],[5793,0.648],[5823,0.640],[5853,0.648],[5893,0.660],[5913,0.668],[5943,0.648],[5983,0.660],[6003,0.648],[6053,0.640],[5293,0.684],[5263,0.700],[5213,0.684],[5183,0.700],[5113,0.668],[5093,0.684],[5033,0.648],[4955,0.648],[4913,0.668],[4863,0.684],[4813,0.700],[4753,0.692],[4713,0.700],
[5303,0.724],[5325,0.741],[5343,0.684],[5365,0.708],[5388,0.765],[5413,0.700],[5433,0.668],[5453,0.741],[5475,0.684],[5493,0.724],[5513,0.700],[5533,0.773],[5558,0.684],[5581,0.668],[5603,0.716],[5621,0.741],[5643,0.692],[5658,0.724],[5678,0.741],[5698,0.684],[5718,0.668],[5741,0.716],[5763,0.733],[5783,0.668],[5803,0.684],[5818,0.652],[5843,0.668],[5863,0.692],[5883,0.716],[5903,0.692],[5928,0.676],[5953,0.700],[5978,0.733],[5998,0.684],[6023,0.668],[6048,0.684],[6083,0.700],[6098,0.724],[6113,0.765],[6133,0.781],[6148,0.797],[6163,0.813],[6178,0.837],[6193,0.853],[6203,0.805],[6188,0.765],[6173,0.716],[6158,0.692],[6133,0.676],[6153,0.668],
[6088,0.740],[6096,0.690],[6108,0.720],[6116,0.760],[6124,0.700],[6136,0.720],[6146,0.750],[6156,0.730],[6166,0.770],[6176,0.690],[6186,0.730],[6196,0.710],[6206,0.760],[6170,0.800],[6190,0.820],[6150,0.850],[6130,0.660],[6200,0.660]
];

// Highlighted SNPs of interest: [genome position, -log10(q)]
const highlightSnps = [[1480,1.976],[3636,1.623],[3818,1.602],[3636,1.395],[3636,1.322]];

// Contig centre ticks, given as runs [first, last, spacing] of densely packed contigs
const contigTickRuns = [
[40,240,4],[257,292,12],[305,360,5],[374,392,9],[420,480,5],[490,522,10],[536,536,1],[546,590,5],[600,650,5],[662,674,6],[690,760,7],[782,870,6],[882,1000,7],[1022,1022,1],[1040,1060,10],[1072,1200,5],[1210,1330,5],[1338,1550,5],
[1551,1780,4],[1789,1880,6],[1886,1900,7],[1909,1960,5],[1969,2031,6],[2039,2241,4],[2252,2272,10],[2286,2400,4],[2413,2486,5],[2493,2561,6],[2571,2611,5],[2621,2651,6],[2661,2761,5],[2771,2891,5],[2901,2981,5],[3001,3041,10],[3051,3100,4],
[3104,3120,5],[3126,3200,4],[3212,3268,4],[3280,3520,4],[3532,3582,4],[3594,4230,4],[4242,4395,4],[4420,4550,4],[4562,4652,4],
[4653,4711,4],[4723,4751,4],[4763,4836,4],[4848,4929,4],[4941,5021,4],[5031,5031,1],[5050,5086,5],[5096,5251,4],[5263,5350,4],[5373,5931,4],[5943,5961,5],[5973,6021,4],[6033,6061,6],[6073,6209,4]
];

// ---------------- DRAWING ----------------
const W = 4320, H = 2160;
const panel = {left: 192, right: 4292, top: 102, bottom: 2066};
const FONT = "'Liberation Sans', Arial, Helvetica, sans-serif";
const svg = d3.select("#chart");

svg.append("rect").attr("width", W).attr("height", H).attr("fill", "#ffffff");

const tickPositions = contigTickRuns.flatMap(([a, b, s]) => d3.range(a, b + 0.001, s));
const allSnps = oddContigSnps.map(d => ({pos: d[0], q: d[1], grp: "odd"}))
  .concat(evenContigSnps.map(d => ({pos: d[0], q: d[1], grp: "even"})))
  .sort((a, b) => a.pos - b.pos);
const highlights = highlightSnps.map(d => ({pos: d[0], q: d[1]}));

const xExt = d3.extent(allSnps.map(d => d.pos).concat(tickPositions));
const xPad = (xExt[1] - xExt[0]) * 0.05;
const x = d3.scaleLinear().domain([xExt[0] - xPad, xExt[1] + xPad]).range([panel.left, panel.right]);

const yMin = d3.min(allSnps, d => d.q);
const yPad = (yUpperLimit - yMin) * 0.05;
const y = d3.scaleLinear().domain([yMin - yPad, yUpperLimit + yPad]).range([panel.bottom, panel.top]);

const color = d3.scaleOrdinal().domain(["odd", "even"]).range(["#000000", "#a9a9a9"]);

svg.append("rect")
  .attr("x", panel.left).attr("y", panel.top)
  .attr("width", panel.right - panel.left).attr("height", panel.bottom - panel.top)
  .attr("fill", "#ebebeb");

const step = yTickValues[1] - yTickValues[0];
const minorTicks = yTickValues.map(v => v - step / 2).filter(v => v > y.domain()[0] && v < y.domain()[1]);
const gGrid = svg.append("g");
gGrid.selectAll("line.minor").data(minorTicks).join("line").attr("class", "minor")
  .attr("x1", panel.left).attr("x2", panel.right)
  .attr("y1", d => y(d)).attr("y2", d => y(d))
  .attr("stroke", "#ffffff").attr("stroke-width", 2.1);
gGrid.selectAll("line.major").data(yTickValues).join("line").attr("class", "major")
  .attr("x1", panel.left).attr("x2", panel.right)
  .attr("y1", d => y(d)).attr("y2", d => y(d))
  .attr("stroke", "#ffffff").attr("stroke-width", 4.2);

svg.append("g").selectAll("circle").data(allSnps).join("circle")
  .attr("cx", d => x(d.pos)).attr("cy", d => y(d.q)).attr("r", 7.8)
  .attr("fill", d => color(d.grp)).attr("fill-opacity", 0.8)
  .attr("stroke", d => color(d.grp)).attr("stroke-opacity", 0.8).attr("stroke-width", 1.5);

const thresholdColors = ["#ff0000", "#0000ff"];
svg.append("g").selectAll("line").data(qThresholds).join("line")
  .attr("x1", panel.left).attr("x2", panel.right)
  .attr("y1", d => y(-Math.log10(d))).attr("y2", d => y(-Math.log10(d)))
  .attr("stroke", (d, i) => thresholdColors[i]).attr("stroke-width", 4.2)
  .attr("stroke-dasharray", "17.8,17.8");

svg.append("g").selectAll("circle").data(highlights).join("circle")
  .attr("cx", d => x(d.pos)).attr("cy", d => y(d.q)).attr("r", 11.5)
  .attr("fill", "#ffa500");

const yAxis = svg.append("g").attr("transform", `translate(${panel.left},0)`)
  .call(d3.axisLeft(y).tickValues(yTickValues).tickFormat((d, i) => yTickLabels[i]).tickSize(12).tickPadding(12));
yAxis.select(".domain").remove();
yAxis.selectAll(".tick line").attr("stroke", "#333333").attr("stroke-width", 4);
yAxis.selectAll(".tick text").attr("fill", "#4d4d4d").style("font-family", FONT)
  .style("font-size", "40px").style("font-weight", "bold");

const xAxis = svg.append("g").attr("transform", `translate(0,${panel.bottom})`)
  .call(d3.axisBottom(x).tickValues(tickPositions).tickFormat("").tickSize(12));
xAxis.select(".domain").remove();
xAxis.selectAll(".tick line").attr("stroke", "#333333").attr("stroke-width", 3.5);

svg.append("text").attr("x", panel.left).attr("y", 67)
  .style("font-family", FONT).style("font-size", "60px").style("font-weight", "bold")
  .attr("fill", "#000").text(chartTitle);

svg.append("text").attr("x", (panel.left + panel.right) / 2).attr("y", 2125)
  .attr("text-anchor", "middle")
  .style("font-family", FONT).style("font-size", "50px").style("font-weight", "bold")
  .attr("fill", "#000").text(xAxisTitle);

const yTitle = svg.append("text")
  .attr("transform", `translate(77,${(panel.top + panel.bottom) / 2}) rotate(-90)`)
  .attr("text-anchor", "middle")
  .style("font-family", FONT).style("font-size", "48px").attr("fill", "#000");
yTitle.append("tspan").text("\u2212");
yTitle.append("tspan").attr("dx", 14).text("log");
yTitle.append("tspan").attr("dy", 10).style("font-size", "30px").text("10");
yTitle.append("tspan").attr("dy", -10).text("(q)");
</script>
</body></html>
